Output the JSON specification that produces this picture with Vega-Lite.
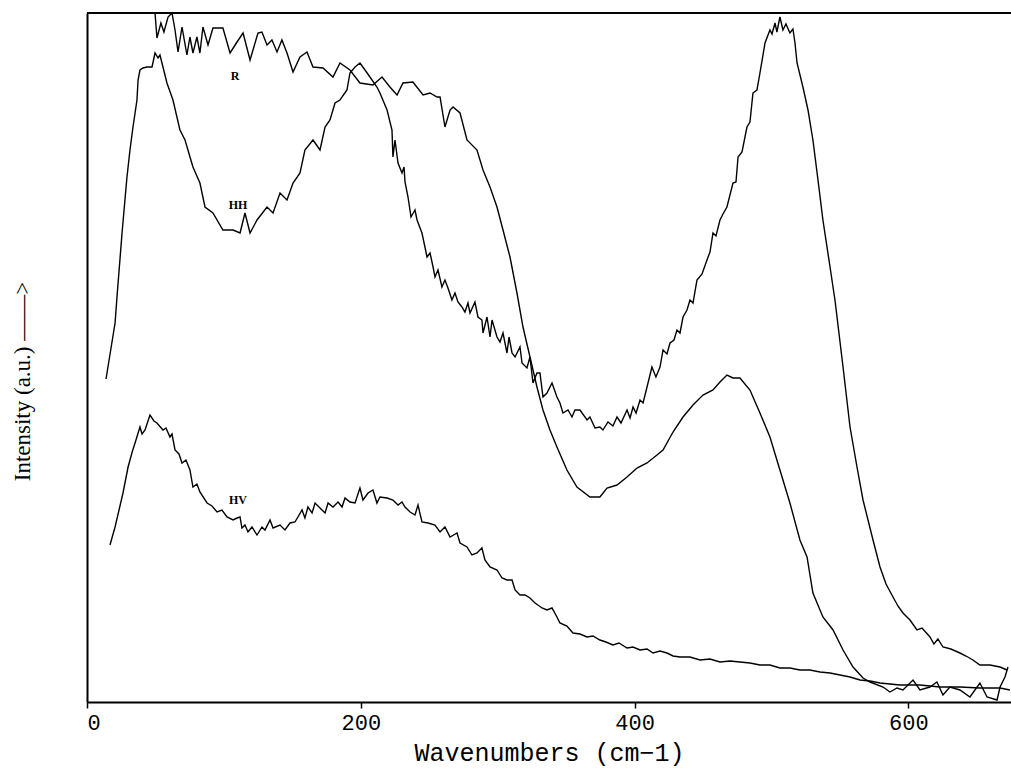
{
  "$schema": "https://vega.github.io/schema/vega-lite/v6.json",
  "width": 924,
  "height": 689,
  "autosize": {"type": "none"},
  "padding": {"left": 87, "top": 13, "right": 0, "bottom": 67},
  "background": "white",
  "config": {"view": {"stroke": null}},
  "datasets": {
    "spectra": [
      {"series":"HH","wavenumber":13.9,"intensity":323},{"series":"HH","wavenumber":20.5,"intensity":379},{"series":"HH","wavenumber":21.9,"intensity":405},{"series":"HH","wavenumber":25.6,"intensity":469},{"series":"HH","wavenumber":29.2,"intensity":525},{"series":"HH","wavenumber":31.4,"intensity":552},{"series":"HH","wavenumber":33.6,"intensity":575},{"series":"HH","wavenumber":36.5,"intensity":602},{"series":"HH","wavenumber":37.3,"intensity":622},{"series":"HH","wavenumber":38.7,"intensity":632},{"series":"HH","wavenumber":40.9,"intensity":634},{"series":"HH","wavenumber":43.8,"intensity":635},{"series":"HH","wavenumber":47.5,"intensity":635},{"series":"HH","wavenumber":49.7,"intensity":649},{"series":"HH","wavenumber":51.9,"intensity":644},{"series":"HH","wavenumber":53.3,"intensity":647},{"series":"HH","wavenumber":55.5,"intensity":635},{"series":"HH","wavenumber":58.4,"intensity":619},{"series":"HH","wavenumber":62.8,"intensity":602},{"series":"HH","wavenumber":67.9,"intensity":572},{"series":"HH","wavenumber":71.6,"intensity":562},{"series":"HH","wavenumber":77.4,"intensity":535},{"series":"HH","wavenumber":82.5,"intensity":519},{"series":"HH","wavenumber":86.2,"intensity":495},{"series":"HH","wavenumber":92.0,"intensity":489},{"series":"HH","wavenumber":99.3,"intensity":472},{"series":"HH","wavenumber":106.7,"intensity":472},{"series":"HH","wavenumber":111.8,"intensity":469},{"series":"HH","wavenumber":115.4,"intensity":489},{"series":"HH","wavenumber":119.1,"intensity":469},{"series":"HH","wavenumber":124.2,"intensity":482},{"series":"HH","wavenumber":131.5,"intensity":495},{"series":"HH","wavenumber":135.9,"intensity":489},{"series":"HH","wavenumber":141.0,"intensity":509},{"series":"HH","wavenumber":146.1,"intensity":502},{"series":"HH","wavenumber":150.5,"intensity":519},{"series":"HH","wavenumber":155.6,"intensity":529},{"series":"HH","wavenumber":159.2,"intensity":552},{"series":"HH","wavenumber":165.1,"intensity":562},{"series":"HH","wavenumber":170.2,"intensity":552},{"series":"HH","wavenumber":173.9,"intensity":575},{"series":"HH","wavenumber":177.5,"intensity":582},{"series":"HH","wavenumber":181.2,"intensity":599},{"series":"HH","wavenumber":184.8,"intensity":602},{"series":"HH","wavenumber":189.9,"intensity":612},{"series":"HH","wavenumber":192.1,"intensity":629},{"series":"HH","wavenumber":195.8,"intensity":635},{"series":"HH","wavenumber":199.4,"intensity":639},{"series":"HH","wavenumber":203.1,"intensity":632},{"series":"HH","wavenumber":206.7,"intensity":625},{"series":"HH","wavenumber":211.8,"intensity":615},{"series":"HH","wavenumber":214.0,"intensity":609},{"series":"HH","wavenumber":219.2,"intensity":592},{"series":"HH","wavenumber":222.8,"intensity":572},{"series":"HH","wavenumber":223.5,"intensity":545},{"series":"HH","wavenumber":225.0,"intensity":562},{"series":"HH","wavenumber":227.2,"intensity":539},{"series":"HH","wavenumber":230.1,"intensity":529},{"series":"HH","wavenumber":231.6,"intensity":535},{"series":"HH","wavenumber":232.3,"intensity":520},{"series":"HH","wavenumber":234.5,"intensity":505},{"series":"HH","wavenumber":236.7,"intensity":485},{"series":"HH","wavenumber":239.6,"intensity":492},{"series":"HH","wavenumber":241.1,"intensity":482},{"series":"HH","wavenumber":244.7,"intensity":469},{"series":"HH","wavenumber":248.4,"intensity":445},{"series":"HH","wavenumber":250.6,"intensity":449},{"series":"HH","wavenumber":252.8,"intensity":435},{"series":"HH","wavenumber":254.2,"intensity":425},{"series":"HH","wavenumber":256.4,"intensity":432},{"series":"HH","wavenumber":259.3,"intensity":415},{"series":"HH","wavenumber":261.5,"intensity":422},{"series":"HH","wavenumber":263.7,"intensity":414},{"series":"HH","wavenumber":266.6,"intensity":402},{"series":"HH","wavenumber":268.8,"intensity":409},{"series":"HH","wavenumber":271.0,"intensity":400},{"series":"HH","wavenumber":273.9,"intensity":395},{"series":"HH","wavenumber":276.1,"intensity":390},{"series":"HH","wavenumber":278.3,"intensity":399},{"series":"HH","wavenumber":279.8,"intensity":389},{"series":"HH","wavenumber":283.4,"intensity":400},{"series":"HH","wavenumber":285.6,"intensity":385},{"series":"HH","wavenumber":288.5,"intensity":382},{"series":"HH","wavenumber":289.3,"intensity":369},{"series":"HH","wavenumber":292.2,"intensity":385},{"series":"HH","wavenumber":294.4,"intensity":365},{"series":"HH","wavenumber":295.9,"intensity":382},{"series":"HH","wavenumber":299.5,"intensity":365},{"series":"HH","wavenumber":301.7,"intensity":360},{"series":"HH","wavenumber":303.9,"intensity":369},{"series":"HH","wavenumber":306.8,"intensity":349},{"series":"HH","wavenumber":308.3,"intensity":365},{"series":"HH","wavenumber":310.5,"intensity":349},{"series":"HH","wavenumber":312.7,"intensity":345},{"series":"HH","wavenumber":316.3,"intensity":355},{"series":"HH","wavenumber":317.8,"intensity":339},{"series":"HH","wavenumber":321.4,"intensity":334},{"series":"HH","wavenumber":323.6,"intensity":345},{"series":"HH","wavenumber":325.8,"intensity":319},{"series":"HH","wavenumber":328.7,"intensity":329},{"series":"HH","wavenumber":330.9,"intensity":329},{"series":"HH","wavenumber":333.1,"intensity":305},{"series":"HH","wavenumber":336.0,"intensity":309},{"series":"HH","wavenumber":339.7,"intensity":319},{"series":"HH","wavenumber":343.3,"intensity":305},{"series":"HH","wavenumber":345.5,"intensity":299},{"series":"HH","wavenumber":347.7,"intensity":289},{"series":"HH","wavenumber":351.4,"intensity":292},{"series":"HH","wavenumber":354.3,"intensity":285},{"series":"HH","wavenumber":356.5,"intensity":292},{"series":"HH","wavenumber":360.1,"intensity":292},{"series":"HH","wavenumber":365.3,"intensity":282},{"series":"HH","wavenumber":367.4,"intensity":285},{"series":"HH","wavenumber":371.1,"intensity":274},{"series":"HH","wavenumber":374.7,"intensity":275},{"series":"HH","wavenumber":376.9,"intensity":272},{"series":"HH","wavenumber":380.6,"intensity":280},{"series":"HH","wavenumber":384.2,"intensity":276},{"series":"HH","wavenumber":387.2,"intensity":285},{"series":"HH","wavenumber":390.1,"intensity":279},{"series":"HH","wavenumber":394.5,"intensity":292},{"series":"HH","wavenumber":396.7,"intensity":284},{"series":"HH","wavenumber":398.9,"intensity":295},{"series":"HH","wavenumber":401.1,"intensity":289},{"series":"HH","wavenumber":404.0,"intensity":302},{"series":"HH","wavenumber":406.2,"intensity":299},{"series":"HH","wavenumber":409.1,"intensity":315},{"series":"HH","wavenumber":412.7,"intensity":335},{"series":"HH","wavenumber":415.6,"intensity":325},{"series":"HH","wavenumber":418.6,"intensity":335},{"series":"HH","wavenumber":420.8,"intensity":352},{"series":"HH","wavenumber":423.7,"intensity":348},{"series":"HH","wavenumber":425.9,"intensity":359},{"series":"HH","wavenumber":428.8,"intensity":362},{"series":"HH","wavenumber":431.0,"intensity":372},{"series":"HH","wavenumber":433.2,"intensity":369},{"series":"HH","wavenumber":435.4,"intensity":385},{"series":"HH","wavenumber":438.3,"intensity":392},{"series":"HH","wavenumber":440.5,"intensity":402},{"series":"HH","wavenumber":442.7,"intensity":399},{"series":"HH","wavenumber":445.6,"intensity":422},{"series":"HH","wavenumber":449.3,"intensity":428},{"series":"HH","wavenumber":452.9,"intensity":442},{"series":"HH","wavenumber":455.1,"intensity":450},{"series":"HH","wavenumber":457.3,"intensity":469},{"series":"HH","wavenumber":459.5,"intensity":466},{"series":"HH","wavenumber":462.4,"intensity":482},{"series":"HH","wavenumber":464.6,"intensity":488},{"series":"HH","wavenumber":467.5,"intensity":495},{"series":"HH","wavenumber":471.9,"intensity":519},{"series":"HH","wavenumber":474.1,"intensity":520},{"series":"HH","wavenumber":475.6,"intensity":545},{"series":"HH","wavenumber":478.5,"intensity":550},{"series":"HH","wavenumber":482.1,"intensity":575},{"series":"HH","wavenumber":484.3,"intensity":580},{"series":"HH","wavenumber":486.5,"intensity":609},{"series":"HH","wavenumber":489.4,"intensity":612},{"series":"HH","wavenumber":491.6,"intensity":629},{"series":"HH","wavenumber":495.3,"intensity":659},{"series":"HH","wavenumber":498.9,"intensity":672},{"series":"HH","wavenumber":500.4,"intensity":668},{"series":"HH","wavenumber":502.6,"intensity":679},{"series":"HH","wavenumber":504.0,"intensity":670},{"series":"HH","wavenumber":506.2,"intensity":685},{"series":"HH","wavenumber":508.4,"intensity":672},{"series":"HH","wavenumber":510.6,"intensity":678},{"series":"HH","wavenumber":513.5,"intensity":669},{"series":"HH","wavenumber":515.7,"intensity":673},{"series":"HH","wavenumber":517.2,"intensity":659},{"series":"HH","wavenumber":518.7,"intensity":639},{"series":"HH","wavenumber":523.0,"intensity":615},{"series":"HH","wavenumber":526.7,"intensity":592},{"series":"HH","wavenumber":530.3,"intensity":562},{"series":"HH","wavenumber":534.0,"intensity":522},{"series":"HH","wavenumber":537.6,"intensity":482},{"series":"HH","wavenumber":542.8,"intensity":435},{"series":"HH","wavenumber":546.4,"intensity":402},{"series":"HH","wavenumber":552.3,"intensity":335},{"series":"HH","wavenumber":557.4,"intensity":275},{"series":"HH","wavenumber":562.5,"intensity":235},{"series":"HH","wavenumber":566.9,"intensity":202},{"series":"HH","wavenumber":574.2,"intensity":162},{"series":"HH","wavenumber":579.3,"intensity":135},{"series":"HH","wavenumber":583.7,"intensity":118},{"series":"HH","wavenumber":588.8,"intensity":105},{"series":"HH","wavenumber":592.4,"intensity":96},{"series":"HH","wavenumber":596.1,"intensity":89},{"series":"HH","wavenumber":601.2,"intensity":82},{"series":"HH","wavenumber":606.3,"intensity":72},{"series":"HH","wavenumber":610.0,"intensity":74},{"series":"HH","wavenumber":615.8,"intensity":65},{"series":"HH","wavenumber":618.7,"intensity":58},{"series":"HH","wavenumber":621.6,"intensity":63},{"series":"HH","wavenumber":625.3,"intensity":55},{"series":"HH","wavenumber":631.1,"intensity":53},{"series":"HH","wavenumber":637.7,"intensity":49},{"series":"HH","wavenumber":642.1,"intensity":46},{"series":"HH","wavenumber":647.2,"intensity":42},{"series":"HH","wavenumber":652.3,"intensity":37},{"series":"HH","wavenumber":659.6,"intensity":37},{"series":"HH","wavenumber":667.0,"intensity":35},{"series":"HH","wavenumber":672.1,"intensity":32},
      {"series":"R","wavenumber":49.7,"intensity":689},{"series":"R","wavenumber":51.1,"intensity":664},{"series":"R","wavenumber":54.0,"intensity":679},{"series":"R","wavenumber":56.2,"intensity":670},{"series":"R","wavenumber":59.2,"intensity":685},{"series":"R","wavenumber":62.1,"intensity":689},{"series":"R","wavenumber":64.3,"intensity":672},{"series":"R","wavenumber":66.5,"intensity":650},{"series":"R","wavenumber":69.4,"intensity":675},{"series":"R","wavenumber":73.0,"intensity":647},{"series":"R","wavenumber":75.2,"intensity":665},{"series":"R","wavenumber":77.4,"intensity":649},{"series":"R","wavenumber":80.3,"intensity":665},{"series":"R","wavenumber":82.5,"intensity":649},{"series":"R","wavenumber":84.7,"intensity":675},{"series":"R","wavenumber":88.4,"intensity":657},{"series":"R","wavenumber":92.0,"intensity":674},{"series":"R","wavenumber":99.3,"intensity":674},{"series":"R","wavenumber":104.5,"intensity":649},{"series":"R","wavenumber":109.6,"intensity":660},{"series":"R","wavenumber":114.0,"intensity":669},{"series":"R","wavenumber":119.1,"intensity":642},{"series":"R","wavenumber":124.9,"intensity":669},{"series":"R","wavenumber":127.8,"intensity":670},{"series":"R","wavenumber":131.5,"intensity":657},{"series":"R","wavenumber":135.1,"intensity":662},{"series":"R","wavenumber":138.8,"intensity":650},{"series":"R","wavenumber":142.4,"intensity":662},{"series":"R","wavenumber":146.1,"intensity":649},{"series":"R","wavenumber":150.5,"intensity":630},{"series":"R","wavenumber":155.6,"intensity":645},{"series":"R","wavenumber":160.7,"intensity":650},{"series":"R","wavenumber":165.1,"intensity":635},{"series":"R","wavenumber":172.4,"intensity":634},{"series":"R","wavenumber":179.7,"intensity":625},{"series":"R","wavenumber":184.8,"intensity":639},{"series":"R","wavenumber":192.1,"intensity":632},{"series":"R","wavenumber":199.4,"intensity":619},{"series":"R","wavenumber":208.9,"intensity":617},{"series":"R","wavenumber":215.5,"intensity":625},{"series":"R","wavenumber":221.3,"intensity":615},{"series":"R","wavenumber":226.5,"intensity":607},{"series":"R","wavenumber":230.8,"intensity":619},{"series":"R","wavenumber":238.1,"intensity":620},{"series":"R","wavenumber":245.5,"intensity":607},{"series":"R","wavenumber":250.6,"intensity":609},{"series":"R","wavenumber":255.7,"intensity":605},{"series":"R","wavenumber":257.9,"intensity":605},{"series":"R","wavenumber":261.5,"intensity":575},{"series":"R","wavenumber":265.2,"intensity":592},{"series":"R","wavenumber":267.4,"intensity":595},{"series":"R","wavenumber":272.5,"intensity":589},{"series":"R","wavenumber":277.6,"intensity":562},{"series":"R","wavenumber":284.9,"intensity":552},{"series":"R","wavenumber":289.3,"intensity":532},{"series":"R","wavenumber":294.4,"intensity":515},{"series":"R","wavenumber":299.5,"intensity":495},{"series":"R","wavenumber":303.9,"intensity":472},{"series":"R","wavenumber":309.0,"intensity":445},{"series":"R","wavenumber":314.1,"intensity":409},{"series":"R","wavenumber":318.5,"intensity":375},{"series":"R","wavenumber":323.6,"intensity":345},{"series":"R","wavenumber":328.7,"intensity":315},{"series":"R","wavenumber":333.1,"intensity":292},{"series":"R","wavenumber":338.2,"intensity":272},{"series":"R","wavenumber":343.3,"intensity":255},{"series":"R","wavenumber":350.6,"intensity":232},{"series":"R","wavenumber":357.9,"intensity":215},{"series":"R","wavenumber":367.4,"intensity":205},{"series":"R","wavenumber":374.7,"intensity":205},{"series":"R","wavenumber":379.9,"intensity":214},{"series":"R","wavenumber":387.2,"intensity":217},{"series":"R","wavenumber":394.5,"intensity":225},{"series":"R","wavenumber":401.8,"intensity":234},{"series":"R","wavenumber":409.1,"intensity":239},{"series":"R","wavenumber":416.4,"intensity":247},{"series":"R","wavenumber":420.8,"intensity":252},{"series":"R","wavenumber":428.1,"intensity":270},{"series":"R","wavenumber":435.4,"intensity":285},{"series":"R","wavenumber":442.7,"intensity":297},{"series":"R","wavenumber":450.0,"intensity":307},{"series":"R","wavenumber":457.3,"intensity":312},{"series":"R","wavenumber":462.4,"intensity":320},{"series":"R","wavenumber":467.5,"intensity":327},{"series":"R","wavenumber":471.9,"intensity":324},{"series":"R","wavenumber":477.0,"intensity":324},{"series":"R","wavenumber":484.3,"intensity":312},{"series":"R","wavenumber":491.6,"intensity":289},{"series":"R","wavenumber":498.9,"intensity":265},{"series":"R","wavenumber":506.2,"intensity":232},{"series":"R","wavenumber":513.5,"intensity":199},{"series":"R","wavenumber":520.8,"intensity":162},{"series":"R","wavenumber":526.0,"intensity":145},{"series":"R","wavenumber":530.3,"intensity":109},{"series":"R","wavenumber":537.6,"intensity":85},{"series":"R","wavenumber":545.0,"intensity":72},{"series":"R","wavenumber":552.3,"intensity":52},{"series":"R","wavenumber":559.6,"intensity":35},{"series":"R","wavenumber":566.9,"intensity":24},{"series":"R","wavenumber":572.0,"intensity":20},{"series":"R","wavenumber":581.5,"intensity":15},{"series":"R","wavenumber":586.6,"intensity":10},{"series":"R","wavenumber":591.7,"intensity":14},{"series":"R","wavenumber":596.1,"intensity":12},{"series":"R","wavenumber":603.4,"intensity":22},{"series":"R","wavenumber":608.5,"intensity":12},{"series":"R","wavenumber":615.8,"intensity":15},{"series":"R","wavenumber":620.9,"intensity":20},{"series":"R","wavenumber":625.3,"intensity":7},{"series":"R","wavenumber":630.4,"intensity":15},{"series":"R","wavenumber":637.7,"intensity":12},{"series":"R","wavenumber":645.0,"intensity":5},{"series":"R","wavenumber":652.3,"intensity":19},{"series":"R","wavenumber":657.5,"intensity":5},{"series":"R","wavenumber":664.8,"intensity":2},{"series":"R","wavenumber":667.0,"intensity":15},{"series":"R","wavenumber":670.6,"intensity":25},{"series":"R","wavenumber":672.8,"intensity":35},
      {"series":"HV","wavenumber":16.8,"intensity":157},{"series":"HV","wavenumber":20.5,"intensity":175},{"series":"HV","wavenumber":26.3,"intensity":209},{"series":"HV","wavenumber":30.0,"intensity":235},{"series":"HV","wavenumber":33.0,"intensity":250},{"series":"HV","wavenumber":35.1,"intensity":259},{"series":"HV","wavenumber":38.7,"intensity":275},{"series":"HV","wavenumber":40.2,"intensity":268},{"series":"HV","wavenumber":42.4,"intensity":272},{"series":"HV","wavenumber":46.0,"intensity":287},{"series":"HV","wavenumber":48.9,"intensity":281},{"series":"HV","wavenumber":51.1,"intensity":279},{"series":"HV","wavenumber":55.5,"intensity":272},{"series":"HV","wavenumber":57.7,"intensity":274},{"series":"HV","wavenumber":60.6,"intensity":265},{"series":"HV","wavenumber":62.1,"intensity":268},{"series":"HV","wavenumber":64.3,"intensity":252},{"series":"HV","wavenumber":67.2,"intensity":248},{"series":"HV","wavenumber":69.4,"intensity":239},{"series":"HV","wavenumber":72.3,"intensity":242},{"series":"HV","wavenumber":75.2,"intensity":232},{"series":"HV","wavenumber":77.4,"intensity":215},{"series":"HV","wavenumber":80.3,"intensity":218},{"series":"HV","wavenumber":82.5,"intensity":210},{"series":"HV","wavenumber":87.7,"intensity":199},{"series":"HV","wavenumber":91.3,"intensity":196},{"series":"HV","wavenumber":95.0,"intensity":190},{"series":"HV","wavenumber":98.6,"intensity":192},{"series":"HV","wavenumber":102.3,"intensity":185},{"series":"HV","wavenumber":106.7,"intensity":182},{"series":"HV","wavenumber":109.6,"intensity":184},{"series":"HV","wavenumber":111.8,"intensity":185},{"series":"HV","wavenumber":113.2,"intensity":174},{"series":"HV","wavenumber":115.4,"intensity":177},{"series":"HV","wavenumber":117.6,"intensity":170},{"series":"HV","wavenumber":120.5,"intensity":175},{"series":"HV","wavenumber":124.2,"intensity":167},{"series":"HV","wavenumber":127.8,"intensity":175},{"series":"HV","wavenumber":130.0,"intensity":172},{"series":"HV","wavenumber":133.7,"intensity":182},{"series":"HV","wavenumber":135.9,"intensity":174},{"series":"HV","wavenumber":141.0,"intensity":177},{"series":"HV","wavenumber":144.6,"intensity":172},{"series":"HV","wavenumber":148.3,"intensity":179},{"series":"HV","wavenumber":151.9,"intensity":180},{"series":"HV","wavenumber":154.1,"intensity":185},{"series":"HV","wavenumber":157.1,"intensity":192},{"series":"HV","wavenumber":159.2,"intensity":184},{"series":"HV","wavenumber":161.4,"intensity":195},{"series":"HV","wavenumber":164.4,"intensity":189},{"series":"HV","wavenumber":166.6,"intensity":199},{"series":"HV","wavenumber":170.2,"intensity":194},{"series":"HV","wavenumber":173.9,"intensity":189},{"series":"HV","wavenumber":176.1,"intensity":199},{"series":"HV","wavenumber":179.7,"intensity":195},{"series":"HV","wavenumber":183.4,"intensity":200},{"series":"HV","wavenumber":186.3,"intensity":195},{"series":"HV","wavenumber":188.5,"intensity":204},{"series":"HV","wavenumber":192.1,"intensity":200},{"series":"HV","wavenumber":195.8,"intensity":199},{"series":"HV","wavenumber":199.4,"intensity":214},{"series":"HV","wavenumber":201.6,"intensity":202},{"series":"HV","wavenumber":205.3,"intensity":209},{"series":"HV","wavenumber":208.9,"intensity":212},{"series":"HV","wavenumber":211.8,"intensity":199},{"series":"HV","wavenumber":214.0,"intensity":205},{"series":"HV","wavenumber":219.2,"intensity":204},{"series":"HV","wavenumber":223.5,"intensity":202},{"series":"HV","wavenumber":227.2,"intensity":197},{"series":"HV","wavenumber":230.1,"intensity":200},{"series":"HV","wavenumber":232.3,"intensity":195},{"series":"HV","wavenumber":236.0,"intensity":190},{"series":"HV","wavenumber":239.6,"intensity":187},{"series":"HV","wavenumber":241.8,"intensity":197},{"series":"HV","wavenumber":244.7,"intensity":180},{"series":"HV","wavenumber":249.1,"intensity":179},{"series":"HV","wavenumber":254.2,"intensity":177},{"series":"HV","wavenumber":257.9,"intensity":170},{"series":"HV","wavenumber":261.5,"intensity":175},{"series":"HV","wavenumber":265.2,"intensity":165},{"series":"HV","wavenumber":270.3,"intensity":169},{"series":"HV","wavenumber":272.5,"intensity":159},{"series":"HV","wavenumber":277.6,"intensity":155},{"series":"HV","wavenumber":281.2,"intensity":147},{"series":"HV","wavenumber":284.9,"intensity":149},{"series":"HV","wavenumber":288.5,"intensity":154},{"series":"HV","wavenumber":290.7,"intensity":142},{"series":"HV","wavenumber":294.4,"intensity":135},{"series":"HV","wavenumber":299.5,"intensity":132},{"series":"HV","wavenumber":303.2,"intensity":124},{"series":"HV","wavenumber":306.8,"intensity":122},{"series":"HV","wavenumber":310.5,"intensity":122},{"series":"HV","wavenumber":312.7,"intensity":112},{"series":"HV","wavenumber":316.3,"intensity":107},{"series":"HV","wavenumber":320.0,"intensity":107},{"series":"HV","wavenumber":323.6,"intensity":104},{"series":"HV","wavenumber":327.3,"intensity":99},{"series":"HV","wavenumber":332.4,"intensity":94},{"series":"HV","wavenumber":336.0,"intensity":92},{"series":"HV","wavenumber":339.7,"intensity":94},{"series":"HV","wavenumber":343.3,"intensity":85},{"series":"HV","wavenumber":345.5,"intensity":79},{"series":"HV","wavenumber":350.6,"intensity":76},{"series":"HV","wavenumber":355.0,"intensity":69},{"series":"HV","wavenumber":360.1,"intensity":68},{"series":"HV","wavenumber":365.3,"intensity":65},{"series":"HV","wavenumber":369.6,"intensity":66},{"series":"HV","wavenumber":374.7,"intensity":62},{"series":"HV","wavenumber":379.1,"intensity":60},{"series":"HV","wavenumber":384.2,"intensity":57},{"series":"HV","wavenumber":388.6,"intensity":59},{"series":"HV","wavenumber":394.5,"intensity":54},{"series":"HV","wavenumber":398.9,"intensity":55},{"series":"HV","wavenumber":404.0,"intensity":52},{"series":"HV","wavenumber":409.1,"intensity":53},{"series":"HV","wavenumber":413.5,"intensity":49},{"series":"HV","wavenumber":418.6,"intensity":51},{"series":"HV","wavenumber":423.7,"intensity":49},{"series":"HV","wavenumber":428.1,"intensity":46},{"series":"HV","wavenumber":433.2,"intensity":45},{"series":"HV","wavenumber":440.5,"intensity":45},{"series":"HV","wavenumber":447.8,"intensity":42},{"series":"HV","wavenumber":455.1,"intensity":43},{"series":"HV","wavenumber":462.4,"intensity":40},{"series":"HV","wavenumber":469.7,"intensity":41},{"series":"HV","wavenumber":477.0,"intensity":40},{"series":"HV","wavenumber":484.3,"intensity":39},{"series":"HV","wavenumber":491.6,"intensity":37},{"series":"HV","wavenumber":498.9,"intensity":37},{"series":"HV","wavenumber":506.2,"intensity":34},{"series":"HV","wavenumber":513.5,"intensity":34},{"series":"HV","wavenumber":520.8,"intensity":32},{"series":"HV","wavenumber":528.1,"intensity":32},{"series":"HV","wavenumber":535.5,"intensity":30},{"series":"HV","wavenumber":542.8,"intensity":29},{"series":"HV","wavenumber":550.1,"intensity":27},{"series":"HV","wavenumber":557.4,"intensity":25},{"series":"HV","wavenumber":564.7,"intensity":22},{"series":"HV","wavenumber":572.0,"intensity":21},{"series":"HV","wavenumber":579.3,"intensity":19},{"series":"HV","wavenumber":593.9,"intensity":17},{"series":"HV","wavenumber":608.5,"intensity":17},{"series":"HV","wavenumber":623.1,"intensity":15},{"series":"HV","wavenumber":637.7,"intensity":15},{"series":"HV","wavenumber":652.3,"intensity":14},{"series":"HV","wavenumber":667.0,"intensity":14},{"series":"HV","wavenumber":674.2,"intensity":12}
    ],
    "labels": [
      {"label":"R","wavenumber":108.1,"intensity":626},
      {"label":"HH","wavenumber":110.3,"intensity":497},
      {"label":"HV","wavenumber":110.3,"intensity":202}
    ]
  },
  "layer": [
    {
      "data": {"name": "spectra"},
      "mark": {"type": "line", "color": "black", "strokeWidth": 1.4, "clip": true},
      "encoding": {
        "x": {
          "field": "wavenumber", "type": "quantitative",
          "scale": {"domain": [0, 675], "nice": false, "zero": false},
          "axis": {
            "values": [0, 200, 400, 600], "grid": false,
            "domainColor": "black", "domainWidth": 2,
            "tickColor": "black", "tickWidth": 1.5, "tickSize": 6,
            "labelFont": "Liberation Mono", "labelFontSize": 22, "labelColor": "black", "labelPadding": 4,
            "title": "Wavenumbers (cm−1)", "titleFont": "Liberation Mono", "titleFontSize": 25,
            "titleFontWeight": "normal", "titleColor": "black", "titlePadding": 7
          }
        },
        "y": {
          "field": "intensity", "type": "quantitative",
          "scale": {"domain": [0, 689], "nice": false},
          "axis": {
            "labels": false, "ticks": false, "grid": false,
            "domainColor": "black", "domainWidth": 2,
            "title": "Intensity (a.u.) ——>", "titleFont": "Liberation Serif", "titleFontSize": 23,
            "titleFontWeight": "normal", "titleColor": "black",
            "titleX": -65, "titleY": 368, "titleAngle": 270, "titleAlign": "center", "titleBaseline": "middle"
          }
        },
        "detail": {"field": "series"}
      }
    },
    {
      "data": {"name": "labels"},
      "mark": {"type": "text", "font": "Liberation Serif", "fontWeight": "bold", "fontSize": 12, "color": "black"},
      "encoding": {
        "x": {"field": "wavenumber", "type": "quantitative"},
        "y": {"field": "intensity", "type": "quantitative"},
        "text": {"field": "label"}
      }
    },
    {
      "data": {"values": [{}]},
      "mark": {"type": "rule", "color": "black", "strokeWidth": 2},
      "encoding": {"y": {"datum": 689}}
    }
  ]
}
